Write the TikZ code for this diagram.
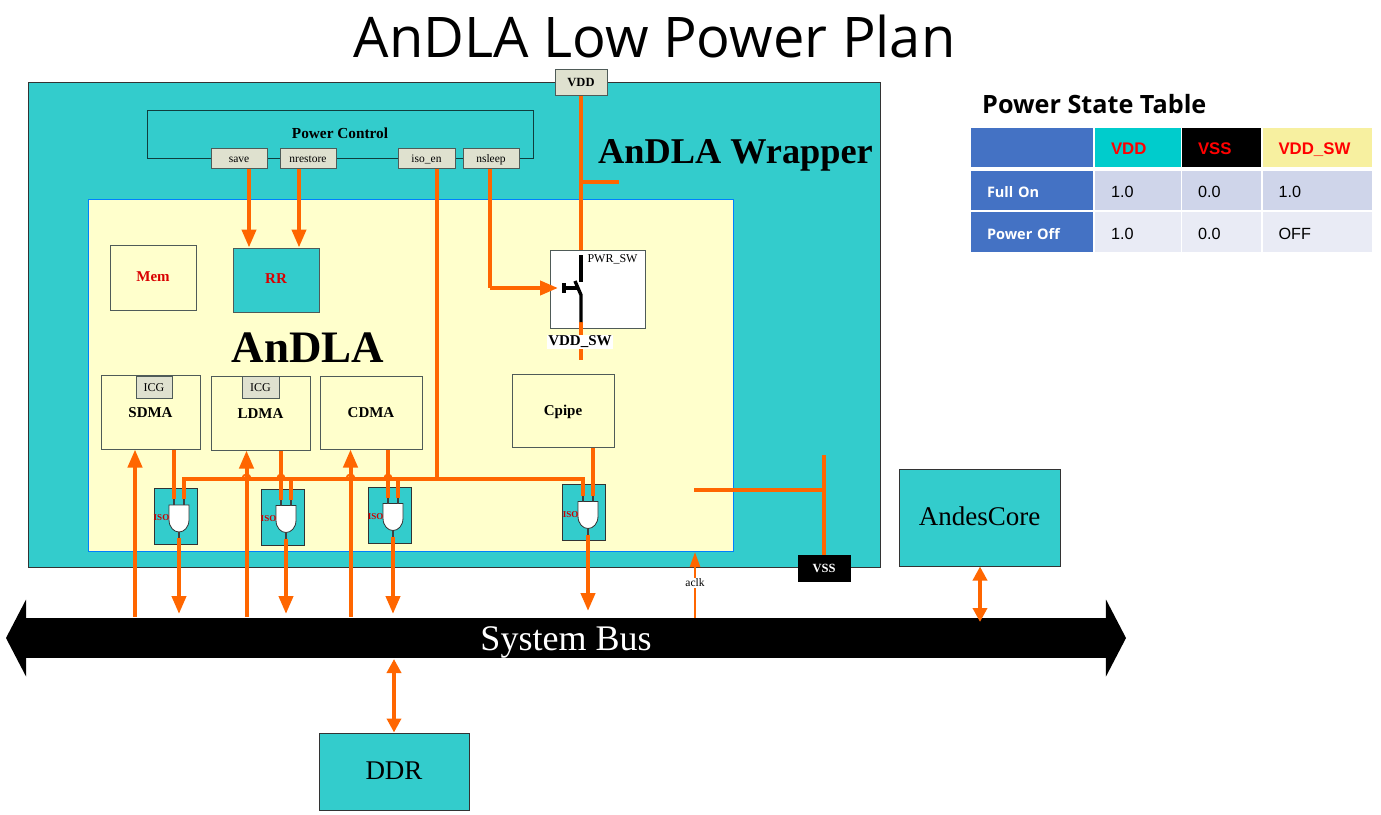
\documentclass[tikz,border=0pt]{standalone}
\usepackage{fontspec}
\setmainfont{Liberation Serif}
\newfontfamily\slidefont{Open Sans}
\newfontfamily\tablefont{Liberation Sans}
\usetikzlibrary{arrows.meta,shapes.arrows}
\definecolor{wrapteal}{HTML}{33CCCC}
\definecolor{andlayellow}{HTML}{FFFFCC}
\definecolor{pwrorange}{HTML}{FF6600}
\definecolor{portgray}{HTML}{DFE1CF}
\definecolor{edgegray}{HTML}{4F5B58}
\definecolor{tblblue}{HTML}{4472C4}
\definecolor{tblrowa}{HTML}{CFD5EA}
\definecolor{tblrowb}{HTML}{E9EBF5}
\definecolor{tblvdd}{HTML}{00CCCC}
\definecolor{tblsw}{HTML}{F7F0A0}
\tikzset{
  box/.style={draw=edgegray,line width=1pt,inner sep=0pt,align=center},
  port/.style={box,fill=portgray,minimum height=20pt,minimum width=56pt,text height=9pt,text depth=1pt,font=\fontsize{11.5}{13}\selectfont},
  block/.style={box,text height=10pt,text depth=0pt,font=\fontsize{15}{16}\bfseries\selectfont},
  tealbox/.style={box,fill=wrapteal,draw=black!80,text height=16pt,text depth=0pt},
  isobox/.style={box,fill=wrapteal,draw=black!80,minimum width=43pt,minimum height=56pt},
  isotext/.style={text=red!80!black,inner sep=0pt,font=\fontsize{9}{10}\bfseries\selectfont},
  pwrline/.style={draw=pwrorange,line width=4pt},
  pwrarrow/.style={pwrline,-{Triangle[length=18pt,width=14pt]}},
  pwrboth/.style={pwrline,{Triangle[length=14pt,width=14pt]}-{Triangle[length=14pt,width=14pt]}},
  pwrhop/.style={pwrline,line width=2pt},
  pin/.style={draw=black!75,line width=1.2pt},
  swline/.style={draw=black,line width=3.4pt},
  cell/.style={inner xsep=16pt,inner ysep=0pt,align=left,text height=14pt,text depth=0pt,font=\tablefont\fontsize{16.2}{18}\selectfont},
  cola/.style={cell,text width=90pt},
  colb/.style={cell,text width=54pt},
  colc/.style={cell,text width=47pt},
  cold/.style={cell,text width=77pt},
  rowhead/.style={cola,fill=tblblue,text=white,font=\slidefont\fontsize{14.5}{17}\bfseries\selectfont},
  railhead/.style={text=red,font=\tablefont\fontsize{16.8}{18}\bfseries\selectfont},
  isogate/.pic={
    \draw[draw=black!80,fill=white,line width=0.8pt] (-10,-13.5) -- (10,-13.5) -- (10,1) .. controls (10,9) and (5,13.5) .. (0,13.5) .. controls (-5,13.5) and (-10,9) .. (-10,1) -- cycle;
    \coordinate (-ina) at (-5,-13.5);
    \coordinate (-inb) at (5,-13.5);
    \coordinate (-out) at (0,13.5);
  },
}
\begin{document}
\begin{tikzpicture}[x=1pt,y=-1pt]
\useasboundingbox (0,0) rectangle (1381,814);
% title and outer blocks
\node (title) at (654.5,36) [inner sep=0pt,font=\slidefont\fontsize{56}{64}\selectfont] {AnDLA Low Power Plan};
\node (wrapper) at (454,324.5) [box,fill=wrapteal,draw=black!80,minimum width=852pt,minimum height=485pt] {};
\node (andla) at (410.5,375) [box,draw=blue!50!cyan,fill=andlayellow,minimum width=645pt,minimum height=352pt] {};
\node (wraplabel) at (735.5,155.5) [inner sep=0pt,font=\fontsize{36.3}{40}\bfseries\selectfont] {AnDLA Wrapper};
\node (andlalabel) at (308,348) [inner sep=0pt,font=\fontsize{45}{48}\bfseries\selectfont] {AnDLA};
% power control and its ports
\node (pwrctl) at (340,134) [box,draw=black!70!wrapteal,minimum width=386pt,minimum height=48pt] {};
\node (pwrlabel) at (340,133.5) [inner sep=0pt,font=\fontsize{15.3}{16}\bfseries\selectfont] {Power Control};
\node (save) at (239,158) [port] {save};
\node (nrestore) at (308,158) [port] {nrestore};
\node (isoen) at (426.5,158) [port,minimum width=57pt] {iso\_en};
\node (nsleep) at (491,158) [port] {nsleep};
\node (vdd) at (581,82) [port,minimum width=52pt,minimum height=26pt,font=\fontsize{12.5}{14}\bfseries\selectfont] {VDD};
\node (vss) at (824,568) [box,draw=black,fill=black,text=white,minimum width=52pt,minimum height=26pt,font=\fontsize{12.5}{14}\bfseries\selectfont] {VSS};
% blocks inside AnDLA
\node (mem) at (153,277.5) [block,text=red!85!black,text height=8pt,minimum width=86pt,minimum height=65pt] {Mem};
\node (rr) at (276,280) [block,fill=wrapteal,text=red!85!black,text height=6pt,minimum width=86pt,minimum height=64pt] {RR};
\node (pwrsw) at (597.5,289) [box,fill=white,minimum width=95pt,minimum height=78pt] {};
\node (pwrswlabel) at (612.5,259) [inner sep=0pt,font=\fontsize{12}{14}\selectfont] {PWR\_SW};
\node (sdma) at (150.5,412) [block,minimum width=99pt,minimum height=74pt] {SDMA};
\node (ldma) at (260.5,413) [block,minimum width=99pt,minimum height=74pt] {LDMA};
\node (cdma) at (371,412.5) [block,minimum width=102pt,minimum height=73pt] {CDMA};
\node (cpipe) at (563,410.5) [block,minimum width=102pt,minimum height=73pt] {Cpipe};
\node (icga) at (154,387) [port,minimum width=36pt,minimum height=22pt,font=\fontsize{12}{14}\selectfont] {ICG};
\node (icgb) at (260.5,387) [port,minimum width=37pt,minimum height=22pt,font=\fontsize{12}{14}\selectfont] {ICG};
% isolation cells
\node (isoa) at (175.5,516) [isobox] {};
\node (isob) at (282.5,517) [isobox] {};
\node (isoc) at (389.5,515) [isobox] {};
\node (isod) at (583.5,512) [isobox] {};
\pic (gatea) at (179,518.5) {isogate};
\pic (gateb) at (286,519) {isogate};
\pic (gatec) at (393,517) {isogate};
\pic (gated) at (588,515) {isogate};
\node (isotexta) at (161.5,517.5) [isotext] {ISO};
\node (isotextb) at (268.5,518.5) [isotext] {ISO};
\node (isotextc) at (375.5,516.5) [isotext] {ISO};
\node (isotextd) at (570.5,514.5) [isotext] {ISO};
\draw[pin] (gatea-ina) -- ++(0,-6);
\draw[pin] (gatea-inb) -- ++(0,-6);
\draw[pin] (gatea-out) -- ++(0,6);
\draw[pin] (gateb-ina) -- ++(0,-6);
\draw[pin] (gateb-inb) -- ++(0,-6);
\draw[pin] (gateb-out) -- ++(0,6);
\draw[pin] (gatec-ina) -- ++(0,-6);
\draw[pin] (gatec-inb) -- ++(0,-6);
\draw[pin] (gatec-out) -- ++(0,6);
\draw[pin] (gated-ina) -- ++(0,-6);
\draw[pin] (gated-inb) -- ++(0,-6);
\draw[pin] (gated-out) -- ++(0,6);
% bus, core and memory
\node (bus) at (566,638) [draw=none,fill=black,text=white,double arrow,minimum height=1120pt,minimum width=77pt,
  inner xsep=3pt,inner ysep=7pt,text height=25pt,text depth=0pt,double arrow head extend=18.5pt,double arrow tip angle=125,font=\fontsize{36}{38}\selectfont] {System Bus};
\node (andes) at (979.5,517.5) [tealbox,minimum width=161pt,minimum height=97pt,font=\fontsize{27}{30}\selectfont] {AndesCore};
\node (ddr) at (394,771.5) [tealbox,minimum width=150pt,minimum height=77pt,font=\fontsize{27}{30}\selectfont] {DDR};
% free ends of the connectors
\coordinate (busout) at (0,614);
\coordinate (sdmain) at (135,617);
\coordinate (ldmain) at (246.5,617);
\coordinate (cdmain) at (350.5,617);
\coordinate (entap) at (437,479);
\coordinate (vddtap) at (581,182);
\coordinate (vddend) at (619,182);
\coordinate (vssend) at (824,455);
\coordinate (vsstap) at (824,490);
\coordinate (vssleft) at (694,490);
\coordinate (sleepbend) at (490,288);
\coordinate (sleeptip) at (558,288);
\coordinate (swlow) at (581,360);
\coordinate (aclktip) at (695,552);
\coordinate (aclkfoot) at (695,618);
\coordinate (andestip) at (980,622);
\coordinate (ddrtip) at (394,659);
% power control signals
\draw[pwrarrow] ([xshift=10pt]save.south) -- ([xshift=10pt]save.south |- rr.north);
\draw[pwrarrow] ([xshift=-9pt]nrestore.south) -- ([xshift=-9pt]nrestore.south |- rr.north);
\draw[pwrline] (nsleep.south -| sleepbend) -- (sleepbend);
\draw[pwrarrow] (sleepbend) -- (sleeptip);
% supply rails
\draw[pwrline] (vdd.south) -- (vdd.south |- pwrsw.north);
\draw[pwrline] (vddtap) -- (vddend);
\draw[pwrline] ([yshift=7pt]swlow |- pwrsw.south) -- (swlow);
\draw[pwrline] (vss.north) -- (vssend);
\draw[pwrline] (vsstap) -- (vssleft);
% the switch
\draw[swline] (581,255) -- (581,282);
\draw[swline] (575,281) -- (581,295) -- (581,322);
\draw[swline] (564,288) -- (578,288);
\draw[swline] (564,283) -- (564,293);
\node (vddsw) at (580,342) [fill=white,inner xsep=1pt,inner ysep=0.5pt,font=\fontsize{15}{16}\bfseries\selectfont] {VDD\_SW};
% iso enable
\draw[pwrline] ([xshift=10.5pt]isoen.south) -- (entap);
\draw[pwrline] ([yshift=6pt]gatea-inb) -- (gatea-inb |- entap) -- (gated-ina |- entap) -- ([yshift=6pt]gated-ina);
\draw[pwrline] (gateb-inb |- entap) -- ([yshift=6pt]gateb-inb);
\draw[pwrline] (gatec-inb |- entap) -- ([yshift=6pt]gatec-inb);
\draw[pwrhop] (242,479) .. controls (243,473) and (250,473) .. (251,479);
\draw[pwrhop] (277,479) .. controls (278,473) and (284,473) .. (285,479);
\draw[pwrhop] (346,479) .. controls (347,473) and (354,473) .. (355,479);
\draw[pwrhop] (384,479) .. controls (385,473) and (391,473) .. (392,479);
% data paths
\draw[pwrline] (sdma.south -| gatea-ina) -- ([yshift=6pt]gatea-ina);
\draw[pwrline] (ldma.south -| gateb-ina) -- ([yshift=6pt]gateb-ina);
\draw[pwrline] (cdma.south -| gatec-ina) -- ([yshift=6pt]gatec-ina);
\draw[pwrline] (cpipe.south -| gated-inb) -- ([yshift=6pt]gated-inb);
\draw[pwrarrow] ([yshift=-6pt]gatea-out) -- (gatea-out |- busout);
\draw[pwrarrow] ([yshift=-6pt]gateb-out) -- (gateb-out |- busout);
\draw[pwrarrow] ([yshift=-6pt]gatec-out) -- (gatec-out |- busout);
\draw[pwrarrow] ([yshift=-6pt]gated-out) -- ([yshift=3pt]gated-out |- busout);
\draw[pwrarrow] (sdmain) -- (sdmain |- sdma.south);
\draw[pwrarrow] (ldmain) -- (ldmain |- ldma.south);
\draw[pwrarrow] (cdmain) -- (cdmain |- cdma.south);
% clock and bus links
\draw[pwrline,line width=2.4pt,-{Triangle[length=15pt,width=10pt]}] (aclkfoot) -- (aclktip);
\node (aclk) at (695,583) [fill=white,inner xsep=1pt,inner ysep=1pt,font=\fontsize{11.5}{13}\selectfont] {aclk};
\draw[pwrboth] (andes.south -| andestip) -- (andestip);
\draw[pwrboth] (ddrtip) -- (ddrtip |- ddr.north);
% power state table
\node (tbltitle) at (982,104.5) [anchor=west,inner sep=0pt,font=\slidefont\fontsize{25.2}{28}\bfseries\selectfont] {Power State Table};
\node (cellaa) at (1032,147) [rowhead,minimum height=39pt] {};
\node (cellab) at (1138,147) [colb,railhead,fill=tblvdd,minimum height=39pt] {VDD};
\node (cellac) at (1221.5,147) [colc,railhead,fill=black,minimum height=39pt] {VSS};
\node (cellad) at (1317,147) [cold,railhead,fill=tblsw,minimum height=39pt] {VDD\_SW};
\node (cellba) at (1032,190.5) [rowhead,minimum height=39pt] {Full On};
\node (cellbb) at (1138,190.5) [colb,fill=tblrowa,minimum height=39pt] {1.0};
\node (cellbc) at (1221.5,190.5) [colc,fill=tblrowa,minimum height=39pt] {0.0};
\node (cellbd) at (1317,190.5) [cold,fill=tblrowa,minimum height=39pt] {1.0};
\node (cellca) at (1032,232) [rowhead,minimum height=40pt] {Power Off};
\node (cellcb) at (1138,232) [colb,fill=tblrowb,minimum height=40pt] {1.0};
\node (cellcc) at (1221.5,232) [colc,fill=tblrowb,minimum height=40pt] {0.0};
\node (cellcd) at (1317,232) [cold,fill=tblrowb,minimum height=40pt] {OFF};
\end{tikzpicture}
\end{document}
